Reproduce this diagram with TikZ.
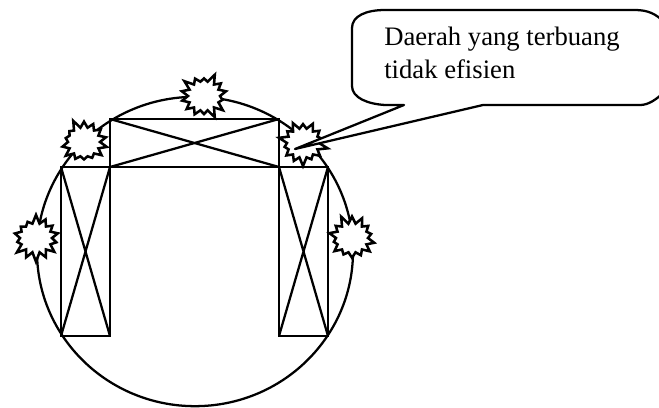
\documentclass[tikz,border=0pt]{standalone}
\usepackage{fontspec}
\setmainfont{Liberation Serif}
\usetikzlibrary{
    shapes.geometric,
    shapes.symbols,
    positioning
}
\tikzset{
    rim/.style={
        ellipse, draw=black, line width=1.7pt, inner sep=0pt, outer sep=0pt,
        minimum width=237pt, minimum height=232pt
    },
    panel/.style={
        rectangle, draw=black, line width=1.7pt, inner sep=0pt, outer sep=0pt,
        path picture={
            \draw [line width=1.7pt]
                (path picture bounding box.north west) -- (path picture bounding box.south east)
                (path picture bounding box.north east) -- (path picture bounding box.south west);
        }
    },
    burst/.style={
        starburst, draw=black, fill=white, line width=1.9pt, inner sep=0pt,
        starburst points=14, starburst point height=7pt,
        minimum width=38pt, minimum height=36pt
    },
    bubble/.style={draw=black, line width=1.7pt, fill=white, line join=round},
    note/.style={
        align=left, anchor=north west, inner sep=0pt,
        font=\fontsize{20pt}{24.5pt}\selectfont
    },
}

\begin{document}
\begin{tikzpicture}[x=0.75pt, y=-0.75pt]

    \useasboundingbox (0,0) rectangle (659,407);

    % lingkaran dan tiga balok
    \node [rim] (circle) at (195,251.5) {};
    \node [panel, minimum width=126.75pt, minimum height=36pt] (toppanel) at (194.5,143) {};
    \node [panel, minimum width=36.75pt, minimum height=126.75pt, anchor=north east]
        (leftpanel) at (toppanel.south west) {};
    \node [panel, minimum width=36.75pt, minimum height=126.75pt, anchor=north west]
        (rightpanel) at (toppanel.south east) {};

    % daerah terbuang
    \node [burst, random starburst=3] (burstone) at (204,96) {};
    \node [burst, random starburst=5] (bursttwo) at (84,142) {};
    \node [burst, random starburst=7] (burstthree) at (36,238) {};
    \node [burst, random starburst=9] (burstfour) at (303,143) {};
    \node [burst, random starburst=11] (burstfive) at (352,238) {};

    % balon keterangan
    \coordinate (tip) at (295,149);
    \draw [bubble] (tip) -- (404,105) -- (385,105)
        .. controls (368,104) and (352,98) .. (352,86)
        -- (352,28) .. controls (352,16) and (366,10) .. (385,10)
        -- (635,10) .. controls (648,10) and (656,14) .. (664,22)
        -- (664,92) .. controls (656,100) and (648,105) .. (640,105)
        -- (483,105) -- cycle;
    \node [note] (label) at (384,27) {Daerah yang terbuang\\tidak efisien};

\end{tikzpicture}
\end{document}
